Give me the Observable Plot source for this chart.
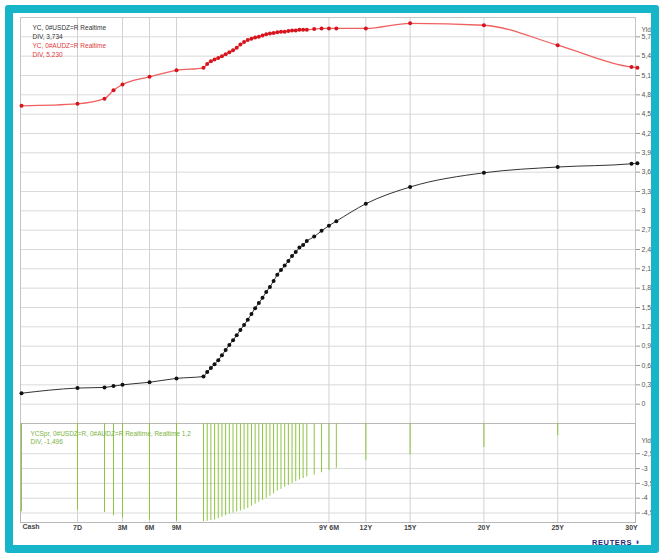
<!DOCTYPE html>
<html><head><meta charset="utf-8">
<script src="https://cdn.jsdelivr.net/npm/d3@7"></script>
<script src="https://cdn.jsdelivr.net/npm/@observablehq/plot@0.6"></script>
<style>
html,body{margin:0;padding:0;background:#fff;}
#wrap{position:relative;width:659px;height:553px;overflow:hidden;background:#fff;font-family:"Liberation Sans",Arial,sans-serif;}
#main,#spread{position:absolute;left:0;}
#main{top:0;}
#spread{top:423px;}
#border{position:absolute;left:5px;top:5px;width:638px;height:532px;border:8px solid #17b5c9;border-radius:3px;z-index:5;pointer-events:none;}
#logo{position:absolute;left:592px;top:537px;font-weight:bold;font-size:7.5px;letter-spacing:0.6px;color:#26246e;z-index:4;}
#logo span{font-size:9px;color:#2b3a9a;}
</style></head>
<body><div id="wrap"><div id="main"></div><div id="spread"></div><div id="logo">REUTERS <span>◗</span></div><div id="border"></div></div>
<script>
// ---- data (tenor in years) ----
const tenors = [0, 0.0192, 0.0833, 0.1667, 0.25, 0.5, 0.75,
  1, 1.25, 1.5, 1.75, 2, 2.25, 2.5, 2.75, 3, 3.25, 3.5, 3.75, 4, 4.25, 4.5, 4.75, 5,
  5.25, 5.5, 5.75, 6, 6.25, 6.5, 6.75, 7, 7.25, 7.5, 7.75, 8,
  8.5, 9, 9.5, 10, 12, 15, 20, 25, 30, 30.4];
const usdYield = [0.17, 0.25, 0.26, 0.28, 0.30, 0.34, 0.40,
  0.43, 0.50, 0.56, 0.62, 0.68, 0.76, 0.84, 0.92, 0.99, 1.07, 1.15, 1.23, 1.31, 1.40, 1.49, 1.57, 1.65,
  1.74, 1.82, 1.91, 2.01, 2.08, 2.15, 2.22, 2.30, 2.36, 2.43, 2.47, 2.53,
  2.60, 2.69, 2.77, 2.84, 3.11, 3.37, 3.59, 3.68, 3.73, 3.74];
const audYield = [4.63, 4.66, 4.74, 4.87, 4.96, 5.08, 5.18,
  5.22, 5.28, 5.32, 5.35, 5.37, 5.40, 5.43, 5.46, 5.49, 5.53, 5.58, 5.62, 5.65, 5.67, 5.69, 5.70, 5.72,
  5.74, 5.75, 5.76, 5.77, 5.78, 5.78, 5.79, 5.80, 5.80, 5.81, 5.81, 5.81,
  5.82, 5.83, 5.83, 5.83, 5.83, 5.91, 5.88, 5.57, 5.23, 5.22];

const xTickValues = [0.0192, 0.25, 0.5, 0.75, 9.5, 12, 15, 20, 25, 30];
const xTickLabels = ["7D", "3M", "6M", "9M", "9Y 6M", "12Y", "15Y", "20Y", "25Y", "30Y"];
const xGridValues = [0.0192, 0.25, 0.5, 0.75, 9.5, 12, 15, 20, 25];
const yTicks = [0, 0.3, 0.6, 0.9, 1.2, 1.5, 1.8, 2.1, 2.4, 2.7, 3, 3.3, 3.6, 3.9, 4.2, 4.5, 4.8, 5.1, 5.4, 5.7];
const spreadTicks = [-2.5, -3, -3.5, -4, -4.5];
const legendMain = ["YC, 0#USDZ=R Realtime", "DIV, 3,734", "YC, 0#AUDZ=R Realtime", "DIV, 5,230"];
const legendMainColors = ["#333333", "#333333", "#e03a3a", "#e03a3a"];
const legendSpread = ["YCSpr, 0#USDZ=R, 0#AUDZ=R Realtime, Realtime 1,2", "DIV, -1,496"];

// ---- derived tables ----
const usd = tenors.map((t, i) => ({t, v: usdYield[i]}));
const aud = tenors.map((t, i) => ({t, v: audYield[i]}));
const spread = tenors.map((t, i) => ({t, s: usdYield[i] - audYield[i]}));
const labelMap = new Map(xTickValues.map((v, i) => [v, xTickLabels[i]]));
const fmt = d => String(d).replace(".", ",");

// Reuters tenor axis: expanded money-market section, then linear in years
const xScale = {type: "linear", domain: [0, 0.0192, 0.0833, 1, 30], range: [21, 77, 104, 203, 631], axis: null};
const font = {fontFamily: "'Liberation Sans', Arial, sans-serif", fontSize: "7px", background: "transparent", overflow: "visible"};

const main = Plot.plot({
  width: 659, height: 425,
  marginLeft: 20, marginRight: 24, marginTop: 17, marginBottom: 2,
  style: font,
  x: xScale,
  y: {domain: [-0.3, 6.0], axis: null},
  marks: [
    Plot.gridY(yTicks, {stroke: "#dadada", strokeOpacity: 1}),
    Plot.gridX(xGridValues, {stroke: "#d2d2d2", strokeOpacity: 1}),
    Plot.frame({stroke: "#c4c4c4"}),
    Plot.line(usd, {x: "t", y: "v", stroke: "#333", strokeWidth: 1, curve: "monotone-x"}),
    Plot.dot(usd, {x: "t", y: "v", r: 2, fill: "#111"}),
    Plot.line(aud, {x: "t", y: "v", stroke: "#f06060", strokeWidth: 1.3, curve: "monotone-x"}),
    Plot.dot(aud, {x: "t", y: "v", r: 2, fill: "#d7141e"}),
    Plot.axisY(yTicks, {anchor: "right", label: null, tickSize: 4, tickPadding: 2, tickFormat: fmt, stroke: "#999", fill: "#555", fontSize: 7}),
    Plot.text(["Yld"], {frameAnchor: "top-right", dx: 6, dy: 10, textAnchor: "start", fill: "#555", fontSize: 6.5}),
    ...legendMain.map((s, i) => Plot.text([s], {frameAnchor: "top-left", dx: 12, dy: 8 + i * 9, textAnchor: "start",
      fill: legendMainColors[i], fontSize: 6.5}))
  ]
});
document.getElementById("main").appendChild(main);

const bottom = Plot.plot({
  width: 659, height: 130,
  marginLeft: 20, marginRight: 24, marginTop: 0, marginBottom: 31,
  style: font,
  x: xScale,
  y: {domain: [-4.82, -1.48], axis: null, clamp: true},
  marks: [
    Plot.gridY(spreadTicks, {stroke: "#dadada", strokeOpacity: 1}),
    Plot.gridX(xGridValues, {stroke: "#d2d2d2", strokeOpacity: 1}),
    Plot.frame({stroke: "#b8b8b8"}),
    Plot.ruleX(spread, {x: "t", y1: -1.48, y2: "s", stroke: "#8cc63f", strokeWidth: 1}),
    Plot.axisY(spreadTicks, {anchor: "right", label: null, tickSize: 4, tickPadding: 2, tickFormat: fmt, stroke: "#999", fill: "#555", fontSize: 7}),
    Plot.text(["Yld"], {frameAnchor: "top-right", dx: 6, dy: 15, textAnchor: "start", fill: "#555", fontSize: 6.5}),
    ...legendSpread.map((s, i) => Plot.text([s], {frameAnchor: "top-left", dx: 10, dy: 8 + i * 8, textAnchor: "start", fill: "#7cb342", fontSize: 6.5})),
    Plot.axisX(xTickValues, {anchor: "bottom", label: null, tickSize: 0, tickPadding: 3, tickFormat: d => labelMap.get(d), fill: "#444", fontWeight: "bold", fontSize: 7}),
    Plot.text(["Cash"], {x: () => 0, frameAnchor: "bottom", dy: 6, dx: 1, textAnchor: "start", fill: "#444", fontWeight: "bold", fontSize: 7})
  ]
});
document.getElementById("spread").appendChild(bottom);
</script>
</body></html>
